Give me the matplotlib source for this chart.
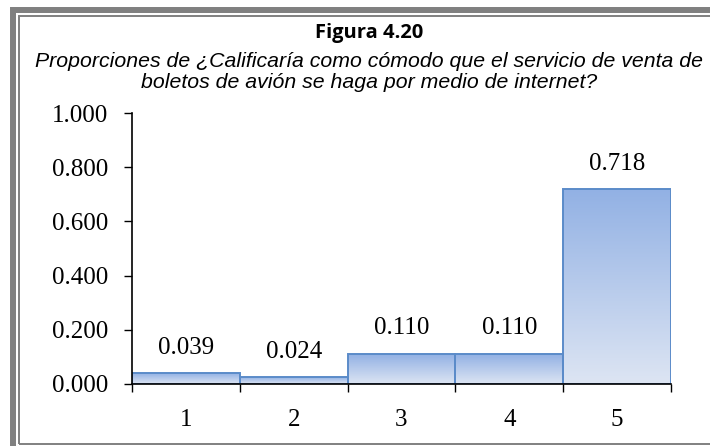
import numpy as np
from matplotlib import pyplot as plt
from matplotlib.patches import Rectangle
from matplotlib.colors import LinearSegmentedColormap

# datos
categorias = ['1', '2', '3', '4', '5']
proporciones = [0.039, 0.024, 0.110, 0.110, 0.718]
etiquetas = ['0.039', '0.024', '0.110', '0.110', '0.718']
yticks = [0.0, 0.2, 0.4, 0.6, 0.8, 1.0]
yticklabels = ['0.000', '0.200', '0.400', '0.600', '0.800', '1.000']

titulo = 'Figura 4.20'
subtitulo = ('Proporciones de ¿Calificaría como cómodo que el servicio de venta de\n'
             'boletos de avión se haga por medio de internet?')

W, H = 710, 446
fig = plt.figure(figsize=(W / 100, H / 100), dpi=100)

# marco gris
gris = '#808080'
fig.add_artist(Rectangle((13 / W, 1 - 452 / H), (720 - 13) / W, (452 - 10) / H,
                         transform=fig.transFigure, fill=False,
                         edgecolor=gris, linewidth=4.3))
fig.add_artist(Rectangle((18.5 / W, 1 - 444 / H), (720 - 18.5) / W, (444 - 15.5) / H,
                         transform=fig.transFigure, fill=False,
                         edgecolor=gris, linewidth=1.4))

# titulos
fig.text(369 / W, 1 - 33 / H, titulo, ha='center', va='center',
         fontsize=14.5, fontweight='bold', family='Open Sans')
fig.text(369 / W, 1 - 72 / H, subtitulo, ha='center', va='center',
         fontsize=15.3, style='italic', family='Liberation Sans', linespacing=1.15)

ax = fig.add_axes([132 / W, (H - 384) / H, (671 - 132) / W, (384 - 113) / H])

grad = LinearSegmentedColormap.from_list('g', ['#dde5f3', '#92b1e4'])
g = np.linspace(0, 1, 256).reshape(-1, 1)
for i, v in enumerate(proporciones):
    ax.imshow(g, cmap=grad, origin='lower', aspect='auto',
              extent=(i - 0.5, i + 0.5, 0, v), zorder=1)
    ax.add_patch(Rectangle((i - 0.5, 0), 1, v, fill=False,
                           edgecolor='#5b8bc9', linewidth=1.4, zorder=2))
    ax.text(i, v + 0.095, etiquetas[i], ha='center', va='center',
            fontsize=18, family='Liberation Serif')

ax.set_xlim(-0.5, len(categorias) - 0.5)
ax.set_ylim(0, 1)
ax.set_yticks(yticks)
ax.set_yticklabels(yticklabels, fontsize=18, family='Liberation Serif')
ax.set_xticks(np.arange(len(categorias) + 1) - 0.5)
ax.set_xticklabels([])
ax.set_xticks(np.arange(len(categorias)), minor=True)
ax.set_xticklabels(categorias, minor=True, fontsize=18, family='Liberation Serif')
ax.tick_params(axis='x', which='minor', length=0, pad=18)
ax.tick_params(axis='x', which='major', length=6, direction='out', width=1)
ax.tick_params(axis='y', length=6, direction='out', width=1, pad=11)
for s in ['top', 'right']:
    ax.spines[s].set_visible(False)
ax.spines['left'].set_linewidth(1.2)
ax.spines['bottom'].set_linewidth(1.2)

plt.savefig('out.png', dpi=100)
